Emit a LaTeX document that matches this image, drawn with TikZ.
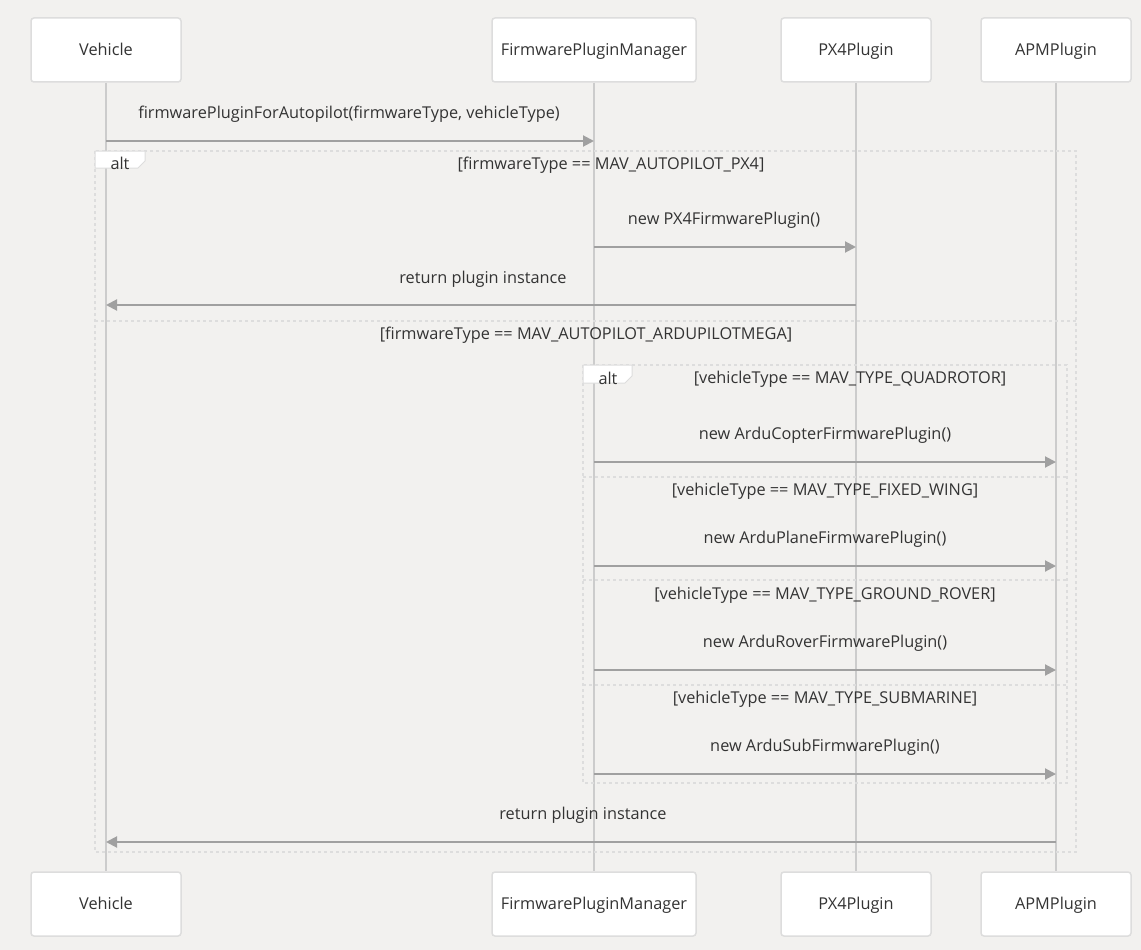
\documentclass[tikz,border=0pt]{standalone}
\usepackage{fontspec}
\setmainfont{Open Sans}
\usetikzlibrary{arrows.meta,positioning}
\definecolor{canvas}{HTML}{F2F1EF}
\definecolor{edge}{HTML}{DDDDDD}
\definecolor{life}{HTML}{CCCCCC}
\definecolor{wire}{HTML}{A0A0A0}
\definecolor{ink}{HTML}{333333}
\tikzset{
  actor/.style={draw=edge, line width=1.5pt, fill=white, rounded corners=3pt, minimum width=150pt, minimum height=64pt, font=\fontsize{16.3}{19}\selectfont, text=ink, text depth=1pt},
  lifeline/.style={draw=life, line width=2pt},
  msg/.style={draw=wire, line width=2pt, -{Triangle[length=11pt, width=11pt]}},
  txt/.style={font=\fontsize{16.3}{19}\selectfont, text=ink, inner sep=0pt, yshift=-2pt},
  frame/.style={draw=edge, line width=1.5pt, dash pattern=on 3pt off 3pt},
  tag/.style={draw=edge, line width=1pt, fill=white}
}

\begin{document}
\begin{tikzpicture}[x=1pt,y=-1pt]
\useasboundingbox[fill=canvas] (0,0) rectangle (1141,950);
% participants
\node[actor] (veh) at (106,50) {Vehicle};
\node[actor, minimum width=204pt] (fpm) at (594,50) {FirmwarePluginManager};
\node[actor] (px4) at (856,50) {PX4Plugin};
\node[actor] (apm) at (1056,50) {APMPlugin};
\node[actor] (vehB) at (106,904) {Vehicle};
\node[actor, minimum width=204pt] (fpmB) at (594,904) {FirmwarePluginManager};
\node[actor] (px4B) at (856,904) {PX4Plugin};
\node[actor] (apmB) at (1056,904) {APMPlugin};
\draw[lifeline] (veh) -- (vehB);
\draw[lifeline] (fpm) -- (fpmB);
\draw[lifeline] (px4) -- (px4B);
\draw[lifeline] (apm) -- (apmB);

% outer alt
\draw[frame] (95,151) rectangle (1076,852);
\draw[frame] (95,321) -- (1076,321);
\draw[tag] (95,151) -- (145,151) -- (145,161) -- (138,168) -- (95,168) -- cycle;
\node[txt] (alt1) at (120,161) {alt};
\node[txt] (c1) at (611,163) {[firmwareType == MAV\_AUTOPILOT\_PX4]};
\node[txt] (c2) at (586,333) {[firmwareType == MAV\_AUTOPILOT\_ARDUPILOTMEGA]};

% inner alt
\draw[frame] (583,365) rectangle (1067,783);
\draw[frame] (583,477) -- (1067,477);
\draw[frame] (583,580) -- (1067,580);
\draw[frame] (583,685) -- (1067,685);
\draw[tag] (583,365) -- (632,365) -- (632,376) -- (625,383) -- (583,383) -- cycle;
\node[txt] (alt2) at (608,376) {alt};
\node[txt] (c3) at (850,377) {[vehicleType == MAV\_TYPE\_QUADROTOR]};
\node[txt] (c4) at (825,489) {[vehicleType == MAV\_TYPE\_FIXED\_WING]};
\node[txt] (c5) at (825,593) {[vehicleType == MAV\_TYPE\_GROUND\_ROVER]};
\node[txt] (c6) at (825,697) {[vehicleType == MAV\_TYPE\_SUBMARINE]};

% messages
\coordinate (m1) at (0,141);
\coordinate (m2) at (0,247);
\coordinate (m3) at (0,305);
\coordinate (m4) at (0,462);
\coordinate (m5) at (0,566);
\coordinate (m6) at (0,670);
\coordinate (m7) at (0,774);
\coordinate (m8) at (0,842);
\node[txt] (l1) at (349,112) {firmwarePluginForAutopilot(firmwareType, vehicleType)};
\draw[msg] (veh |- m1) -- (fpm |- m1);
\node[txt] (l2) at (724,218) {new PX4FirmwarePlugin()};
\draw[msg] (fpm |- m2) -- (px4 |- m2);
\node[txt] (l3) at (483,277) {return plugin instance};
\draw[msg] (px4 |- m3) -- (veh |- m3);
\node[txt] (l4) at (825,433) {new ArduCopterFirmwarePlugin()};
\draw[msg] (fpm |- m4) -- (apm |- m4);
\node[txt] (l5) at (825,537) {new ArduPlaneFirmwarePlugin()};
\draw[msg] (fpm |- m5) -- (apm |- m5);
\node[txt] (l6) at (825,641) {new ArduRoverFirmwarePlugin()};
\draw[msg] (fpm |- m6) -- (apm |- m6);
\node[txt] (l7) at (825,745) {new ArduSubFirmwarePlugin()};
\draw[msg] (fpm |- m7) -- (apm |- m7);
\node[txt] (l8) at (583,813) {return plugin instance};
\draw[msg] (apm |- m8) -- (veh |- m8);
\end{tikzpicture}
\end{document}
